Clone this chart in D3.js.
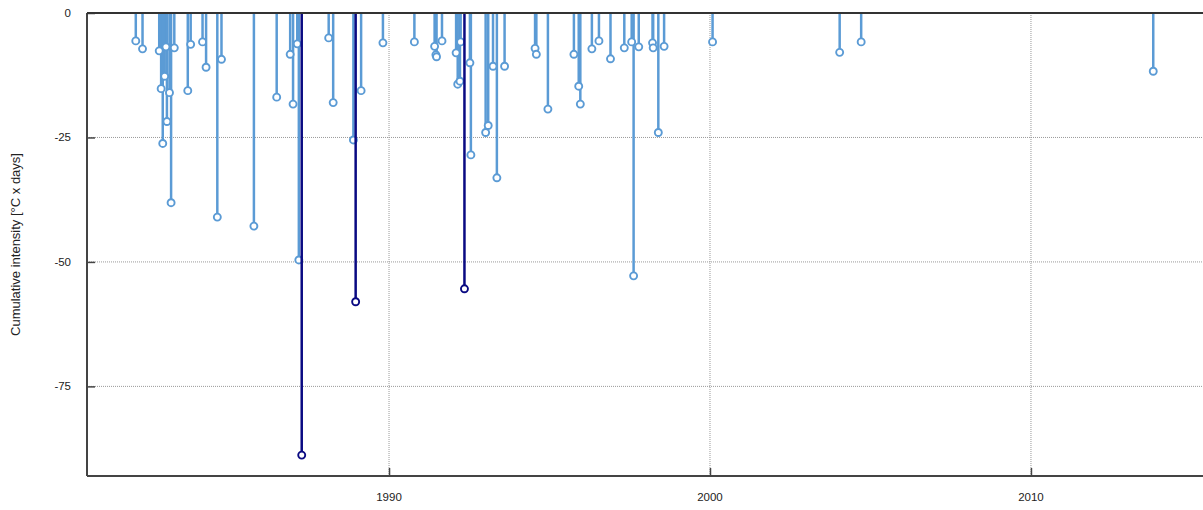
<!DOCTYPE html>
<html>
<head>
<meta charset="utf-8">
<script src="https://cdn.jsdelivr.net/npm/d3@7"></script>
<style>
  body { margin: 0; background: #fff; }
  svg text { font-family: "Liberation Sans", Arial, sans-serif; fill: #222; }
</style>
</head>
<body>
<svg id="chart" width="1203" height="510"></svg>
<script>
// event dates (decimal years) and cumulative intensity
var years = [1982.11, 1982.32, 1982.84, 1982.90, 1982.95, 1983.01, 1983.05, 1983.08, 1983.16, 1983.21,
    1983.31, 1983.73, 1983.82, 1984.19, 1984.30, 1984.65, 1984.78, 1985.79, 1986.50, 1986.92,
    1987.01, 1987.14, 1987.19, 1988.12, 1988.26, 1988.89, 1989.13, 1989.81, 1990.79, 1991.42,
    1991.46, 1991.48, 1991.65, 1992.09, 1992.14, 1992.21, 1992.23, 1992.52, 1992.55, 1993.01,
    1993.09, 1993.24, 1993.36, 1993.60, 1994.55, 1994.59, 1994.95, 1995.76, 1995.91, 1995.96,
    1996.32, 1996.54, 1996.90, 1997.33, 1997.56, 1997.62, 1997.78, 1998.21, 1998.23, 1998.39,
    1998.57, 2000.08, 2004.04, 2004.71, 2013.81];
var intensity = [-5.6, -7.2, -7.6, -15.2, -26.2, -12.7, -6.8, -21.8, -16.0, -38.1,
    -7.0, -15.6, -6.3, -5.8, -10.9, -41.0, -9.3, -42.8, -16.9, -8.3,
    -18.3, -6.2, -49.6, -5.0, -18.0, -25.5, -15.6, -6.0, -5.8, -6.7,
    -8.4, -8.8, -5.6, -8.0, -14.3, -13.7, -5.8, -10.0, -28.5, -24.0,
    -22.6, -10.7, -33.1, -10.7, -7.1, -8.3, -19.3, -8.3, -14.7, -18.3,
    -7.2, -5.6, -9.2, -7.0, -5.8, -52.8, -6.8, -6.0, -7.0, -24.0,
    -6.7, -5.8, -7.9, -5.8, -11.7];

// the three strongest events, drawn darker
var topYears = [1987.28, 1988.96, 1992.35];
var topIntensity = [-88.8, -58.0, -55.4];

var yTicks = [0, -25, -50, -75];
var xTicks = [1990, 2000, 2010];

var svg = d3.select("#chart"),
    plotLeft = 87, plotRight = 1203, plotTop = 13, plotBottom = 476;

var x = d3.scaleLinear().domain([1980.59, 2015.36]).range([plotLeft, plotRight]);
var y = d3.scaleLinear().domain([0, -93]).range([plotTop, plotBottom]);

// grid
svg.append("g").selectAll("line").data(yTicks.slice(1)).enter().append("line")
    .attr("x1", plotLeft).attr("x2", plotRight)
    .attr("y1", function(d) { return y(d); }).attr("y2", function(d) { return y(d); })
    .attr("stroke", "#999").attr("stroke-width", 1).attr("stroke-dasharray", "1,1");
svg.append("g").selectAll("line").data(xTicks).enter().append("line")
    .attr("x1", function(d) { return x(d); }).attr("x2", function(d) { return x(d); })
    .attr("y1", plotTop).attr("y2", plotBottom)
    .attr("stroke", "#999").attr("stroke-width", 1).attr("stroke-dasharray", "1,1");

// axes
var yAxis = svg.append("g")
    .attr("transform", "translate(" + plotLeft + ",0)")
    .call(d3.axisRight(y).tickValues(yTicks).tickSize(8).tickFormat(""));
yAxis.select(".domain").remove();
yAxis.selectAll(".tick line").attr("stroke", "#444").attr("stroke-width", 1.5);

svg.append("g").selectAll("text").data(yTicks).enter().append("text")
    .attr("x", 71).attr("y", function(d) { return y(d) + 4; })
    .attr("text-anchor", "end").attr("font-size", "11.5px")
    .text(function(d) { return d; });

var xAxis = svg.append("g")
    .attr("transform", "translate(0," + plotBottom + ")")
    .call(d3.axisTop(x).tickValues(xTicks).tickSize(8).tickFormat(""));
xAxis.select(".domain").remove();
xAxis.selectAll(".tick line").attr("stroke", "#444").attr("stroke-width", 1.5);

svg.append("g").selectAll("text").data(xTicks).enter().append("text")
    .attr("x", function(d) { return x(d); }).attr("y", 501)
    .attr("text-anchor", "middle").attr("font-size", "11.5px")
    .text(function(d) { return d; });

svg.append("line").attr("x1", plotLeft).attr("x2", plotLeft).attr("y1", plotTop).attr("y2", plotBottom)
    .attr("stroke", "#444").attr("stroke-width", 2);
svg.append("line").attr("x1", plotLeft).attr("x2", plotRight).attr("y1", plotBottom).attr("y2", plotBottom)
    .attr("stroke", "#444").attr("stroke-width", 2);

svg.append("text")
    .attr("transform", "translate(20," + ((plotTop + plotBottom) / 2) + ") rotate(-90)")
    .attr("text-anchor", "middle").attr("font-size", "13px")
    .text("Cumulative intensity [°C x days]");

// stems
function drawStems(xs, vs, color) {
    var g = svg.append("g");
    g.selectAll("line").data(xs).enter().append("line")
        .attr("x1", function(d) { return x(d); }).attr("x2", function(d) { return x(d); })
        .attr("y1", y(0)).attr("y2", function(d, i) { return y(vs[i]); })
        .attr("stroke", color).attr("stroke-width", 2.5);
    g.selectAll("circle").data(xs).enter().append("circle")
        .attr("cx", function(d) { return x(d); })
        .attr("cy", function(d, i) { return y(vs[i]); })
        .attr("r", 3.5)
        .attr("fill", "#fff").attr("stroke", color).attr("stroke-width", 1.9);
}

drawStems(years, intensity, "#5b9bd5");
drawStems(topYears, topIntensity, "#0a0a82");

// zero line on top
svg.append("line").attr("x1", plotLeft).attr("x2", plotRight).attr("y1", y(0)).attr("y2", y(0))
    .attr("stroke", "#333").attr("stroke-width", 2);
</script>
</body>
</html>
